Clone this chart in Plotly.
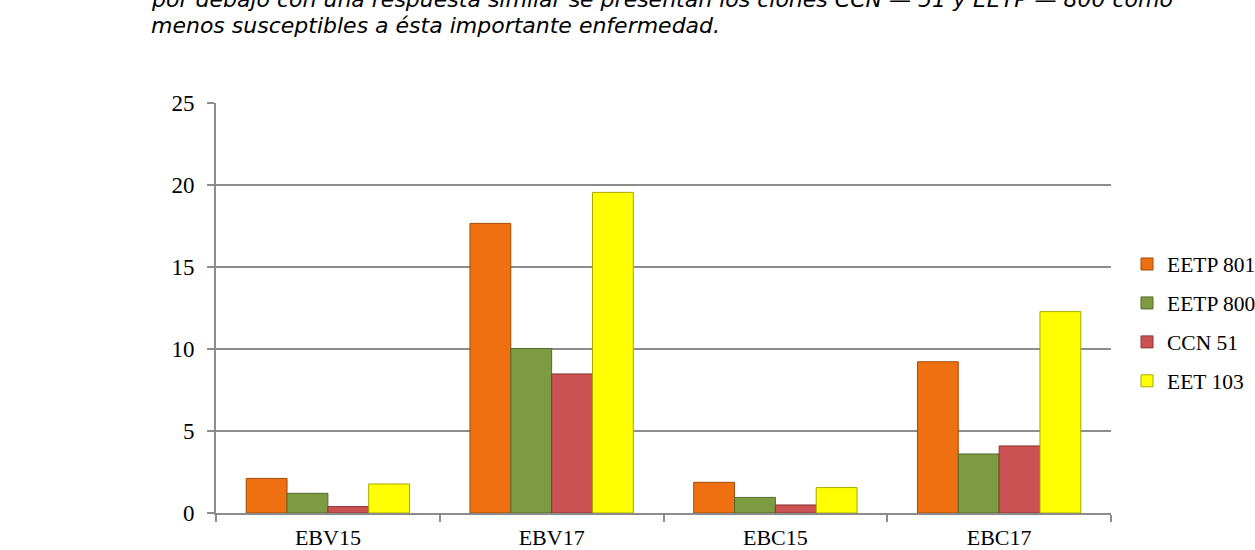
import plotly.graph_objects as go

categories = ["EBV15", "EBV17", "EBC15", "EBC17"]
series_names = ["EETP 801", "EETP 800", "CCN 51", "EET 103"]
eetp801 = [2.11, 17.66, 1.87, 9.22]
eetp800 = [1.20, 10.03, 0.95, 3.60]
ccn51 = [0.39, 8.48, 0.49, 4.09]
eet103 = [1.77, 19.55, 1.55, 12.28]
y_ticks = [0, 5, 10, 15, 20, 25]

series_values = [eetp801, eetp800, ccn51, eet103]
fill_colors = ["#EE7010", "#7D9B41", "#CB5252", "#FFFF00"]
edge_colors = ["#A04A08", "#55692B", "#8C3535", "#A8A800"]

W, H = 1255, 550
L, R, T, B = 216, 1111, 103, 513

fig = go.Figure()
for i, (name, vals) in enumerate(zip(series_names, series_values)):
    fig.add_trace(go.Bar(
        x=categories, y=vals, name=name,
        legendgroup=name,
        marker=dict(color=fill_colors[i], line=dict(color=edge_colors[i], width=1)),
    ))

serif = "Liberation Serif, Times New Roman, serif"

fig.update_layout(
    width=W, height=H,
    margin=dict(l=L, r=W - R, t=T, b=H - B, pad=0, autoexpand=False),
    paper_bgcolor="white", plot_bgcolor="white",
    barmode="group", bargap=0.27, bargroupgap=0,
    font=dict(family=serif, size=20, color="black"),
    showlegend=True,
    legend=dict(
        x=(1127 - L) / (R - L), xanchor="left",
        y=(B - 322.5) / (B - T), yanchor="middle",
        font=dict(family=serif, size=21.5, color="black"),
        traceorder="grouped", tracegroupgap=8,
        bgcolor="rgba(0,0,0,0)", borderwidth=0,
    ),
    xaxis=dict(
        type="category",
        showline=True, linecolor="#8C8C8C", linewidth=2,
        ticks="outside", tickson="boundaries", ticklen=7, tickcolor="#8C8C8C", tickwidth=2,
        showgrid=False, zeroline=False,
        ticklabelstandoff=4,
        tickfont=dict(family=serif, size=22, color="black"),
    ),
    yaxis=dict(
        range=[0, 25], tickvals=y_ticks,
        showline=True, linecolor="#8C8C8C", linewidth=2,
        ticks="outside", ticklen=7, tickcolor="#8C8C8C", tickwidth=2,
        showgrid=True, gridcolor="#8C8C8C", gridwidth=2,
        zeroline=False,
        ticklabelstandoff=8,
        tickfont=dict(family=serif, size=23, color="black"),
    ),
)

sans_it = "DejaVu Sans, Liberation Sans, Arial, sans-serif"
fig.add_annotation(
    xref="paper", yref="paper", x=(150 - L) / (R - L), y=1 + (T + 1) / (B - T),
    xanchor="left", yanchor="middle", showarrow=False, borderpad=0,
    text="<i>por debajo con una respuesta similar se presentan los clones CCN — 51 y EETP — 800 como</i>",
    font=dict(family=sans_it, size=22, color="black"),
)
fig.add_annotation(
    xref="paper", yref="paper", x=(150 - L) / (R - L), y=1 + (T - 25) / (B - T),
    xanchor="left", yanchor="middle", showarrow=False, borderpad=0,
    text="<i>menos susceptibles a ésta importante enfermedad.</i>",
    font=dict(family=sans_it, size=22, color="black"),
)

fig.write_html("out.html")
